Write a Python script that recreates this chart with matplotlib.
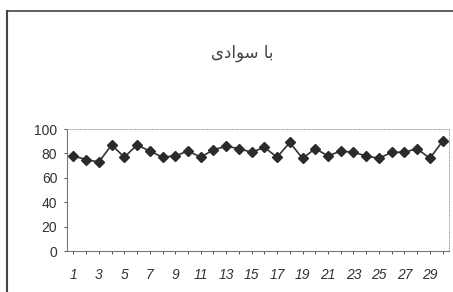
import matplotlib
matplotlib.use("Agg")
import matplotlib.pyplot as plt
from matplotlib.lines import Line2D

# داده‌ها (خوانده شده از تصویر)
days = list(range(1, 31))
values = [78, 75, 73, 87, 77, 87, 82, 77, 78, 82,
          77, 83, 86, 84, 81, 85, 77, 89, 76, 84,
          78, 82, 81, 78, 76, 81, 81, 84, 76, 90]
y_ticks = [0, 20, 40, 60, 80, 100]
x_tick_labels = [str(d) if d % 2 == 1 else "" for d in days]
# "با سوادی" in shaped presentation forms, visual order
title = "\uFEEF\uFEA9\uFE8D\uFEEE\uFEB3 \uFE8E\uFE91"

plt.rcParams["font.family"] = ["Liberation Sans", "DejaVu Sans"]

fig = plt.figure(figsize=(4.53, 2.92), dpi=100)
ax = fig.add_axes([0.148, 0.140, 0.843, 0.418])

ax.plot(days, values, color="#333333", linewidth=1.2, marker="D",
        markersize=5, markerfacecolor="#2b2b2b", markeredgecolor="#2b2b2b")

ax.set_xlim(0.5, 30.5)
ax.set_ylim(0, 100)
ax.set_yticks(y_ticks)
ax.set_xticks(days)
ax.set_xticklabels(x_tick_labels, fontstyle="italic")
ax.tick_params(axis="both", labelsize=10, colors="#333333", length=2, width=0.6)
ax.tick_params(axis="x", pad=10)
ax.tick_params(axis="y", pad=5)

for side in ["left", "bottom"]:
    ax.spines[side].set_color("#777777")
    ax.spines[side].set_linewidth(0.8)
for side in ["top", "right"]:
    ax.spines[side].set_color("#aaaaaa")
    ax.spines[side].set_linewidth(0.7)
    ax.spines[side].set_linestyle(":")

fig.text(0.535, 0.82, title, ha="center", va="center", fontsize=12,
         family=["DejaVu Sans"], color="#444444")

# قاب بیرونی
fig.add_artist(Line2D([0.015, 0.015], [0.0, 0.962], color="#444444", linewidth=1.5))
fig.add_artist(Line2D([0.015, 1.0], [0.962, 0.962], color="#444444", linewidth=1.2))

fig.savefig("out.png", dpi=100)
